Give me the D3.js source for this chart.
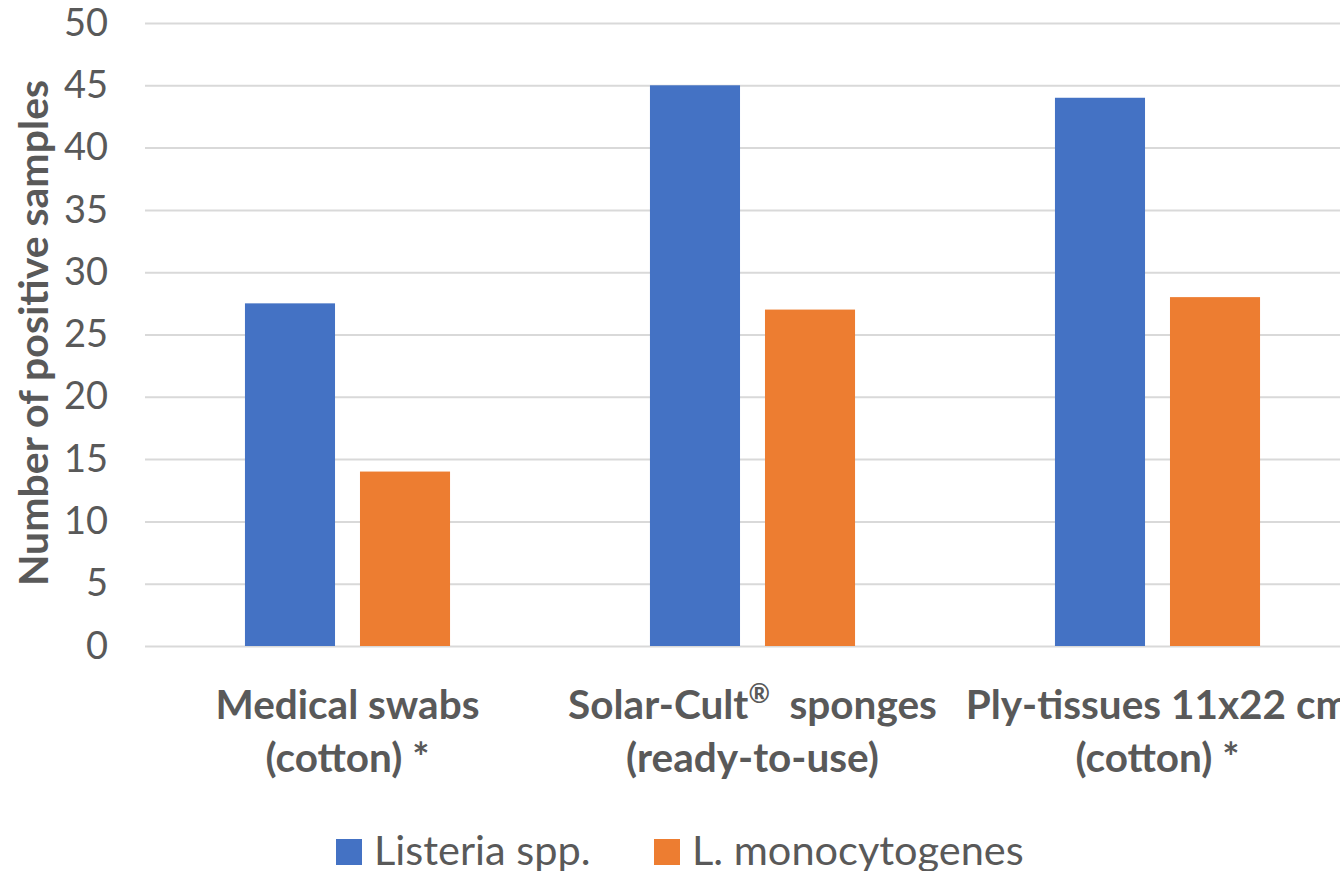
<!DOCTYPE html>
<html lang="en">
<head>
    <meta charset="UTF-8">
    <title>Positive samples by sampling material</title>
    <script src="https://d3js.org/d3.v7.min.js"></script>
    <style>
        body {
            margin: 0;
            background: #ffffff;
            font-family: Lato, "Open Sans", sans-serif;
        }
        svg { display: block; }
    </style>
</head>
<body>
    <div id="container"></div>

    <script>

        // data
        const categories = [
            ["Medical swabs", "(cotton) *"],
            ["Solar-Cult\u00AE  sponges", "(ready-to-use)"],
            ["Ply-tissues 11x22 cm", "(cotton) *"]
        ];
        const series = ["Listeria spp.", "L. monocytogenes"];
        const listeriaValues = [27.5, 45, 44];
        const monoValues = [14, 27, 28];
        const yTicks = [0, 5, 10, 15, 20, 25, 30, 35, 40, 45, 50];
        const colors = ["#4472C4", "#ED7D31"];

        const width = 1340, height = 871;
        const textColor = "#595959";

        const svg = d3.select("#container").append("svg")
            .attr("width", width)
            .attr("height", height);

        // scales
        const catIdx = categories.map((d, i) => i);
        const x0 = d3.scaleBand()
            .domain(catIdx)
            .range([145, 1360])
            .paddingInner(0);

        const x1 = d3.scaleBand()
            .domain(series)
            .range([0, x0.bandwidth()])
            .paddingInner(0.217)
            .paddingOuter(0.869);

        const y = d3.scaleLinear()
            .domain([0, 50])
            .range([646, 23]);

        // gridlines + tick labels
        const yAxis = d3.axisLeft(y)
            .tickValues(yTicks)
            .tickSize(-(width - 145))
            .tickPadding(37)
            .tickFormat(d3.format("d"));

        const gy = svg.append("g")
            .attr("transform", "translate(145,0)")
            .call(yAxis);
        gy.select(".domain").remove();
        gy.selectAll(".tick line")
            .attr("stroke", "#D9D9D9")
            .attr("stroke-width", 2);
        gy.selectAll(".tick text")
            .attr("fill", textColor)
            .attr("font-family", "Lato, sans-serif")
            .attr("font-size", 38);

        // bars
        const rows = catIdx.map(i => [listeriaValues[i], monoValues[i]]);
        const groups = svg.append("g").selectAll("g")
            .data(rows)
            .enter().append("g")
            .attr("transform", (d, i) => `translate(${x0(i)},0)`);

        groups.selectAll("rect")
            .data(d => d.map((v, j) => ({ key: series[j], value: v, j: j })))
            .enter().append("rect")
            .attr("x", d => x1(d.key))
            .attr("width", x1.bandwidth())
            .attr("y", d => y(d.value))
            .attr("height", d => y(0) - y(d.value))
            .attr("fill", d => colors[d.j]);

        // category labels, one text per line; the ® sign goes up as superscript
        categories.forEach((lines, i) => {
            lines.forEach((line, k) => {
                const t = svg.append("text")
                    .attr("x", x0(i) + x0.bandwidth() / 2)
                    .attr("y", 719 + k * 53)
                    .attr("text-anchor", "middle")
                    .attr("fill", textColor)
                    .attr("font-size", 40.5)
                    .attr("font-weight", "bold")
                    .style("white-space", "pre");

                const parts = line.split("\u00AE");
                parts.forEach((p, n) => {
                    t.append("tspan").text(p);
                    if (n < parts.length - 1) {
                        t.append("tspan")
                            .attr("font-size", 26)
                            .attr("baseline-shift", "super")
                            .text("\u00AE");
                    }
                });
            });
        });

        // y axis title
        svg.append("text")
            .attr("transform", "translate(48,333) rotate(-90)")
            .attr("text-anchor", "middle")
            .attr("fill", textColor)
            .attr("font-size", 41)
            .attr("font-weight", "bold")
            .text("Number of positive samples");

        // legend
        const legendX = [336, 654];
        const legend = svg.append("g").selectAll("g")
            .data(series)
            .enter().append("g")
            .attr("transform", (d, i) => `translate(${legendX[i]},0)`);

        legend.append("rect")
            .attr("y", 839)
            .attr("width", 26)
            .attr("height", 26)
            .attr("fill", (d, i) => colors[i]);

        legend.append("text")
            .attr("x", 38)
            .attr("y", 865)
            .attr("fill", textColor)
            .attr("font-size", 41.5)
            .text(d => d);

    </script>
</body>
</html>
